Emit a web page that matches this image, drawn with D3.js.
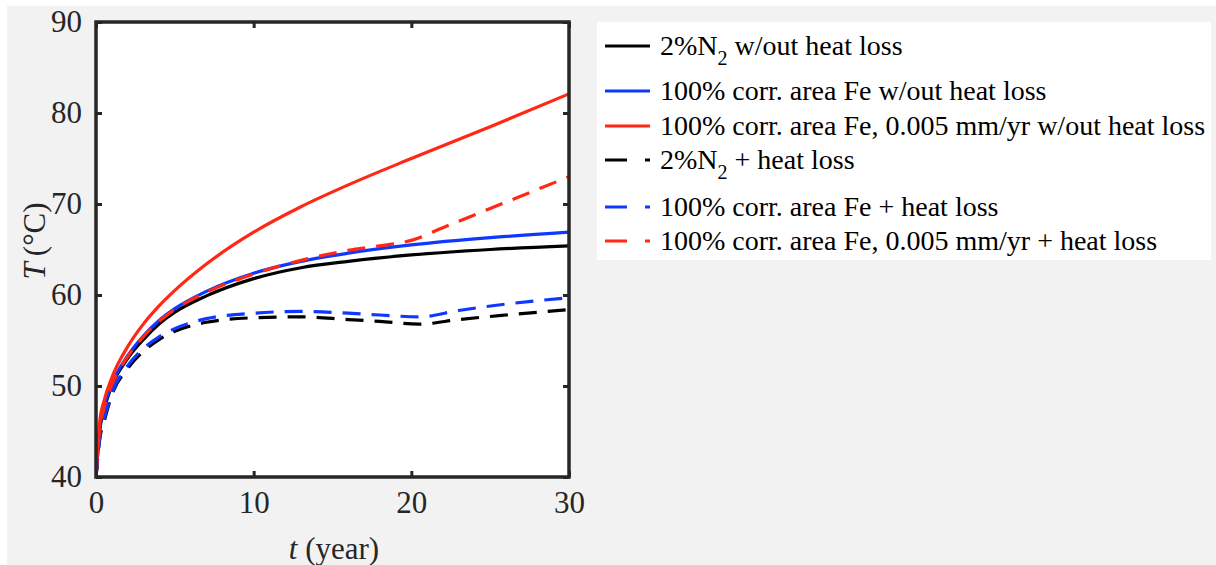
<!DOCTYPE html>
<html>
<head>
<meta charset="utf-8">
<script src="https://cdn.jsdelivr.net/npm/d3@7"></script>
<style>
  body { margin: 0; background: #fff; }
  svg text { font-family: "Liberation Serif", "Times New Roman", serif; }
</style>
</head>
<body>
<svg id="chart" width="1216" height="565"></svg>
<script>
// years and temperatures
const tN2 = [0, 0.25, 0.5, 1, 2, 3, 4, 5, 7, 10, 13, 16, 20, 25, 30]
const N2noLoss = [40, 45.3, 47.3, 50, 53, 55.1, 56.8, 58.1, 59.9, 61.8, 63.0, 63.7, 64.4, 65.0, 65.4]

const tFe = [0, 0.25, 0.5, 1, 2, 3, 4, 5, 7, 10, 13, 16, 20, 25, 30]
const FeNoLoss = [40, 45.5, 47.6, 50.2, 53.3, 55.5, 57.2, 58.5, 60.4, 62.4, 63.7, 64.6, 65.5, 66.3, 66.9]

const tFeRate = [0, 0.25, 0.5, 1, 2, 3, 4, 5, 7, 10, 13, 16, 20, 25, 30]
const FeRateNoLoss = [40, 46.3, 48.3, 50.9, 54.3, 56.8, 58.8, 60.5, 63.4, 66.9, 69.7, 72.1, 75.0, 78.5, 82.1]

const tN2loss = [0, 0.25, 0.5, 1, 2, 3, 4, 5, 7, 10, 13, 16, 18, 20.5, 23, 26, 30]
const N2loss = [40, 44.3, 46, 49, 51.9, 53.8, 55.1, 56, 57, 57.5, 57.6, 57.3, 57.1, 56.8, 57.3, 57.8, 58.4]

const tFeLoss = [0, 0.25, 0.5, 1, 2, 3, 4, 5, 7, 10, 13, 16, 18, 20.5, 23, 26, 30]
const FeLoss = [40, 44.5, 46.3, 49.2, 52.2, 54.1, 55.4, 56.3, 57.4, 58.0, 58.2, 58.0, 57.8, 57.6, 58.3, 59.0, 59.7]

const tFeRateLoss = [0, 0.25, 0.5, 1, 2, 3, 4, 5, 7, 10, 13, 16, 18, 20, 22, 25, 28, 30]
const FeRateLoss = [40, 45.5, 47.5, 50.1, 53.2, 55.4, 57.1, 58.4, 60.3, 62.3, 63.8, 64.9, 65.4, 66.0, 67.4, 69.5, 71.6, 73.0]

const xTicks = [0, 10, 20, 30]
const yTicks = [40, 50, 60, 70, 80, 90]

const series = [
  {name: "2%N|2| w/out heat loss", t: tN2, v: N2noLoss, color: "#000000", dash: false},
  {name: "100% corr. area Fe w/out heat loss", t: tFe, v: FeNoLoss, color: "#0f37ff", dash: false},
  {name: "100% corr. area Fe, 0.005 mm/yr w/out heat loss", t: tFeRate, v: FeRateNoLoss, color: "#ff2814", dash: false},
  {name: "2%N|2| + heat loss", t: tN2loss, v: N2loss, color: "#000000", dash: true},
  {name: "100% corr. area Fe + heat loss", t: tFeLoss, v: FeLoss, color: "#0f37ff", dash: true},
  {name: "100% corr. area Fe, 0.005 mm/yr + heat loss", t: tFeRateLoss, v: FeRateLoss, color: "#ff2814", dash: true}
]

const svg = d3.select("#chart")
const margin = {left: 96, right: 569, top: 22, bottom: 477}
const axisColor = "#262626"

svg.append("rect").attr("x", 7).attr("y", 6).attr("width", 1209).attr("height", 559).attr("fill", "#f2f2f2")

let xScale = d3.scaleLinear().domain([0, 30]).range([margin.left, margin.right])
let yScale = d3.scaleLinear().domain([40, 90]).range([margin.bottom, margin.top])

svg.append("rect")
  .attr("x", margin.left).attr("y", margin.top)
  .attr("width", margin.right - margin.left).attr("height", margin.bottom - margin.top)
  .attr("fill", "#fff")

// curves
let clip = svg.append("clipPath").attr("id", "clip")
clip.append("rect").attr("x", margin.left).attr("y", margin.top)
  .attr("width", margin.right - margin.left).attr("height", margin.bottom - margin.top)

let line = d3.line()
  .x(d => xScale(d[0]))
  .y(d => yScale(d[1]))
  .curve(d3.curveMonotoneX)

svg.append("g").attr("clip-path", "url(#clip)")
  .selectAll("path")
  .data(series)
  .join("path")
  .attr("d", s => line(s.t.map((t, i) => [t, s.v[i]])))
  .attr("fill", "none")
  .attr("stroke", s => s.color)
  .attr("stroke-width", 3.2)
  .attr("stroke-dasharray", s => s.dash ? "18,11" : null)

// axes: box with inner ticks on all four sides
let xAxisB = d3.axisBottom(xScale).tickValues(xTicks).tickSizeInner(-6).tickSizeOuter(0).tickPadding(14)
let xAxisT = d3.axisTop(xScale).tickValues(xTicks).tickSizeInner(-6).tickSizeOuter(0).tickFormat("")
let yAxisL = d3.axisLeft(yScale).tickValues(yTicks).tickSizeInner(-6).tickSizeOuter(0).tickPadding(14)
let yAxisR = d3.axisRight(yScale).tickValues(yTicks).tickSizeInner(-6).tickSizeOuter(0).tickFormat("")

function styleAxis(g) {
  g.select(".domain").remove()
  g.selectAll(".tick line").attr("stroke", axisColor).attr("stroke-width", 3)
  g.selectAll(".tick text").attr("fill", axisColor).style("font-size", "31px")
}

svg.append("g").attr("transform", `translate(0,${margin.bottom})`).call(xAxisB).call(styleAxis)
svg.append("g").attr("transform", `translate(0,${margin.top})`).call(xAxisT).call(styleAxis)
svg.append("g").attr("transform", `translate(${margin.left},0)`).call(yAxisL).call(styleAxis)
svg.append("g").attr("transform", `translate(${margin.right},0)`).call(yAxisR).call(styleAxis)

svg.append("rect")
  .attr("x", margin.left).attr("y", margin.top)
  .attr("width", margin.right - margin.left).attr("height", margin.bottom - margin.top)
  .attr("fill", "none").attr("stroke", axisColor).attr("stroke-width", 3.5)

// axis labels
let xl = svg.append("text")
  .attr("x", 334).attr("y", 559)
  .attr("text-anchor", "middle")
  .attr("fill", axisColor)
  .style("font-size", "31px")
xl.append("tspan").attr("font-style", "italic").text("t")
xl.append("tspan").text(" (year)")

let yl = svg.append("text")
  .attr("transform", "translate(45,241) rotate(-90)")
  .attr("text-anchor", "middle")
  .attr("fill", axisColor)
  .style("font-size", "31px")
yl.append("tspan").attr("font-style", "italic").text("T")
yl.append("tspan").text("\u2009(°C)")

// legend
const legendRows = [46, 91, 126, 160, 207, 241]
let legend = svg.append("g")
legend.append("rect")
  .attr("x", 597).attr("y", 22).attr("width", 614).attr("height", 238)
  .attr("fill", "#fff")

series.forEach((s, i) => {
  let y = legendRows[i]
  legend.append("line")
    .attr("x1", 605).attr("x2", 650).attr("y1", y).attr("y2", y)
    .attr("stroke", s.color).attr("stroke-width", 3.2)
    .attr("stroke-dasharray", s.dash ? "22,18" : null)
  let txt = legend.append("text")
    .attr("x", 660).attr("y", y + 9)
    .attr("fill", "#000")
    .style("font-size", "28px")
  let parts = s.name.split("|")
  txt.append("tspan").text(parts[0])
  if (parts.length > 1) {
    txt.append("tspan").attr("dy", 10).style("font-size", "20px").text(parts[1])
    txt.append("tspan").attr("dy", -10).text(parts[2])
  }
})
</script>
</body>
</html>
